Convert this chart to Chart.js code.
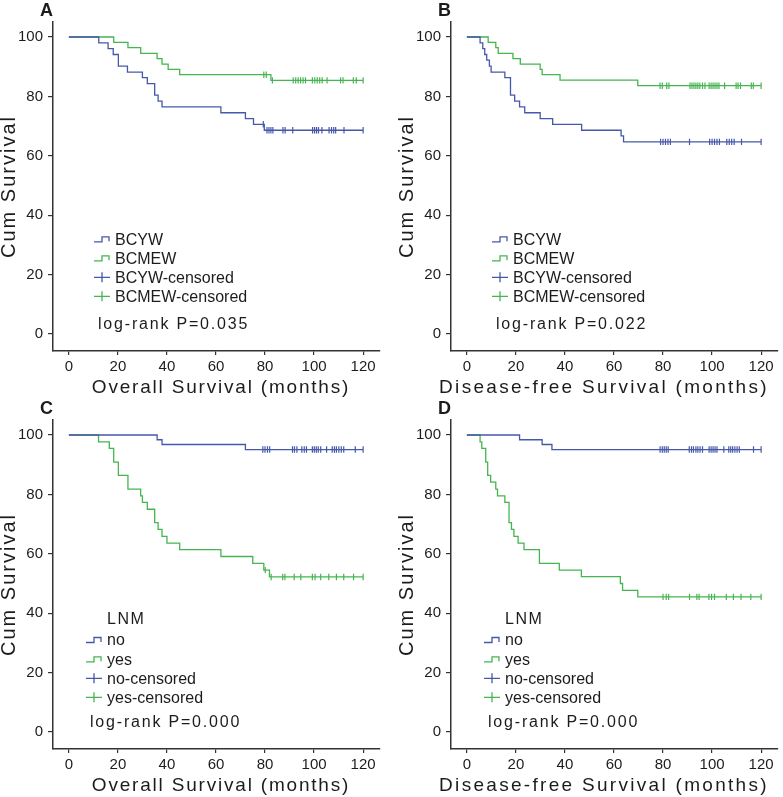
<!DOCTYPE html>
<html>
<head>
<meta charset="utf-8">
<script src="https://cdn.jsdelivr.net/npm/chart.js@4.4.1/dist/chart.umd.min.js"></script>
<style>
  html, body { margin: 0; padding: 0; background: #fff; overflow: hidden; }
  #wrap { position: relative; width: 783px; height: 797px; }
  .panel { position: absolute; width: 385px; height: 399px; }
</style>
</head>
<body>
<div id="wrap">
  <div class="panel" style="left:0;top:0"><canvas id="pa" width="385" height="399"></canvas></div>
  <div class="panel" style="left:398px;top:0"><canvas id="pb" width="385" height="399"></canvas></div>
  <div class="panel" style="left:0;top:398px"><canvas id="pc" width="385" height="399"></canvas></div>
  <div class="panel" style="left:398px;top:398px"><canvas id="pd" width="385" height="399"></canvas></div>
</div>
<script>
// axis ticks
const xTickVals = [0, 20, 40, 60, 80, 100, 120];
const yTickVals = [0, 20, 40, 60, 80, 100];

// A: overall survival, BCYW vs BCMEW
const aYoungTimes = [12.2, 16, 18.1, 20.2, 23.9, 30, 32, 35, 36.4, 38, 62, 72, 75.3, 79.7];
const aYoungSurv = [98.0, 96.1, 94.1, 90.2, 88.2, 86.3, 84.3, 80.4, 78.4, 76.5, 74.5, 72.5, 70.6, 68.6];
const aYoungCens = [79.3, 80.8, 81.6, 82.4, 83.2, 87.3, 88.2, 91.3, 99.4, 100.2, 101, 101.8, 103.2, 106.1, 107.1, 108, 108.8, 112.2, 120];
const aMidTimes = [18.3, 24.1, 29.3, 36, 38, 40.5, 45.2, 82.4];
const aMidSurv = [98.2, 96.4, 94.5, 92.7, 90.9, 89.1, 87.3, 85.4];
const aMidCens = [79.5, 80.5, 83, 91.5, 92.5, 93.5, 94.5, 95.5, 96.5, 99.3, 100.3, 101.3, 102.3, 103.3, 105.3, 110.8, 111.8, 116, 117.2, 120];

// B: disease-free survival, BCYW vs BCMEW
const bYoungTimes = [5.4, 6.5, 7.3, 8.1, 9.2, 9.9, 15.5, 17.8, 19.5, 21.5, 23.6, 29.9, 35, 46.8, 62.9, 63.9];
const bYoungSurv = [98.0, 96.1, 94.1, 92.2, 90.2, 88.2, 86.3, 80.4, 78.4, 76.5, 74.5, 72.5, 70.6, 68.6, 66.7, 64.7];
const bYoungCens = [79, 80, 81, 82, 83, 90.8, 99, 100, 101, 102, 103, 106, 107, 108, 109, 112, 120];
const bMidTimes = [8.7, 11.8, 12.8, 18.8, 21.8, 29.9, 30.7, 38, 69.7];
const bMidSurv = [98.2, 96.4, 94.5, 92.7, 90.9, 89.1, 87.3, 85.5, 83.6];
const bMidCens = [78.8, 79.7, 81.5, 82.4, 91, 91.8, 92.6, 93.4, 94.2, 95, 96.1, 97.1, 98.8, 99.6, 100.4, 101.2, 102, 102.8, 105.1, 109.8, 110.6, 111.6, 116, 116.8, 120];

// C: overall survival by LNM
const cNoTimes = [36, 38, 72];
const cNoSurv = [98.4, 96.8, 95.1];
const cNoCens = [79.1, 80, 81, 81.9, 91.2, 92, 93, 95, 96, 96.9, 99.3, 100.1, 100.9, 101.7, 102.7, 105.1, 107.4, 108.3, 109.1, 110.1, 111.1, 112.1, 116.8, 120];
const cYesTimes = [12.1, 16.5, 18.3, 20.2, 24.1, 29.3, 30, 32, 35, 36.4, 38, 40, 45.2, 62, 75, 79.5, 81.8];
const cYesSurv = [97.7, 95.5, 90.9, 86.4, 81.8, 79.5, 77.3, 75.0, 70.5, 68.2, 65.9, 63.6, 61.4, 59.1, 56.8, 54.5, 52.2];
const cYesCens = [80.1, 82.5, 87.2, 88.1, 91.9, 94.6, 99.3, 100.4, 102.7, 106, 109.1, 112.1, 116.1, 120];

// D: disease-free survival by LNM
const dNoTimes = [21.5, 30.7, 34.7];
const dNoSurv = [98.4, 96.8, 95.1];
const dNoCens = [78.8, 79.7, 80.5, 81.3, 82.1, 90.7, 91.6, 92.4, 93.4, 94.2, 95.1, 96.1, 98.8, 99.6, 100.4, 101.2, 102, 104.8, 106.8, 107.6, 108.4, 109.3, 110.2, 111.1, 116.9, 120];
const dYesTimes = [5.4, 6.1, 7.7, 8.5, 9.7, 11.8, 12.5, 15.5, 17.2, 18.2, 19.2, 20.9, 23.3, 29.6, 37.7, 46.7, 62.6, 63.5, 69.7];
const dYesSurv = [97.7, 95.5, 90.9, 86.4, 84.1, 81.8, 79.5, 77.3, 70.5, 68.2, 65.9, 63.6, 61.4, 56.8, 54.5, 52.3, 50.0, 47.7, 45.5];
const dYesCens = [80, 81.3, 82.3, 90.8, 93.8, 94.7, 98.7, 99.8, 101, 105.8, 108.7, 111.8, 115.8, 120];

const groupLabels = ['BCYW', 'BCMEW', 'BCYW-censored', 'BCMEW-censored'];
const lnmLabels = ['no', 'yes', 'no-censored', 'yes-censored'];

const BLUE = '#4658a9';
const GREEN = '#45b54f';
const INK = '#1c1c1c';
const FONT = '"Liberation Sans", Arial, sans-serif';

// survival value at time t (step function)
function survAt(times, surv, t) {
  let s = 100;
  for (let i = 0; i < times.length; i++) {
    if (times[i] <= t) s = surv[i];
  }
  return s;
}

function stepData(times, surv, cens) {
  let pts = [{x: 0, y: 100}];
  for (let i = 0; i < times.length; i++) pts.push({x: times[i], y: surv[i]});
  let end = cens[cens.length - 1];
  pts.push({x: end, y: surv[surv.length - 1]});
  return pts;
}

function censData(times, surv, cens) {
  return cens.map(t => ({x: t, y: survAt(times, surv, t)}));
}

const panelDecor = {
  id: 'panelDecor',
  afterDraw(chart, args, o) {
    const ctx = chart.ctx;
    const area = chart.chartArea;
    ctx.save();
    ctx.fillStyle = INK;

    // panel letter
    ctx.font = 'bold 18px ' + FONT;
    ctx.textAlign = 'left';
    ctx.textBaseline = 'alphabetic';
    ctx.fillText(o.letter, 40, 16);

    // axis titles
    ctx.font = '19px ' + FONT;
    ctx.letterSpacing = o.titleSpacing;
    ctx.textAlign = 'center';
    ctx.textBaseline = 'middle';
    ctx.fillText(o.xTitle, o.titleX, 388);
    ctx.font = '20px ' + FONT;
    ctx.letterSpacing = '2px';
    ctx.save();
    ctx.translate(9, (area.top + area.bottom) / 2);
    ctx.rotate(-Math.PI / 2);
    ctx.fillText('Cum Survival', 0, 0);
    ctx.restore();

    // legend
    ctx.letterSpacing = '0px';
    ctx.textAlign = 'left';
    ctx.font = '16px ' + FONT;
    const ix = o.legendX;
    const colors = [BLUE, GREEN, BLUE, GREEN];
    if (o.header) {
      ctx.letterSpacing = '1.5px';
      ctx.fillText(o.header, ix + 21, o.rows[0] - 20);
      ctx.letterSpacing = '0px';
    }
    o.labels.forEach((lab, i) => {
      const y = o.rows[i];
      ctx.strokeStyle = colors[i];
      ctx.lineWidth = 1.3;
      ctx.beginPath();
      if (i < 2) {
        ctx.moveTo(ix, y + 2.5);
        ctx.lineTo(ix + 8, y + 2.5);
        ctx.lineTo(ix + 8, y - 2.5);
        ctx.lineTo(ix + 15, y - 2.5);
        ctx.lineTo(ix + 15, y + 2);
      } else {
        ctx.moveTo(ix, y);
        ctx.lineTo(ix + 16, y);
        ctx.moveTo(ix + 8, y - 5);
        ctx.lineTo(ix + 8, y + 5);
      }
      ctx.stroke();
      ctx.fillStyle = INK;
      ctx.textBaseline = 'middle';
      ctx.fillText(lab, ix + 21, y + 1);
    });

    // log-rank text
    ctx.letterSpacing = '1.8px';
    ctx.textBaseline = 'alphabetic';
    ctx.fillText(o.pText, o.pX, 329);
    ctx.restore();
  }
};

function makePanel(id, p) {
  const ds = [
    {data: stepData(p.t1, p.s1, p.c1), borderColor: BLUE, stepped: true},
    {data: stepData(p.t2, p.s2, p.c2), borderColor: GREEN, stepped: true},
    {data: censData(p.t1, p.s1, p.c1), borderColor: BLUE, showLine: false, pointStyle: 'line', rotation: 90, pointRadius: 3.2, pointBorderWidth: 1.2},
    {data: censData(p.t2, p.s2, p.c2), borderColor: GREEN, showLine: false, pointStyle: 'line', rotation: 90, pointRadius: 3.2, pointBorderWidth: 1.2}
  ];
  ds.forEach(d => {
    d.borderWidth = 1.3;
    if (d.showLine !== false) d.pointRadius = 0;
    d.fill = false;
  });

  const tickFont = {family: FONT, size: 15};
  new Chart(document.getElementById(id), {
    type: 'line',
    data: {datasets: ds},
    options: {
      responsive: false,
      animation: false,
      devicePixelRatio: 1,
      layout: {padding: {top: 22, right: 2, left: 0, bottom: 0}},
      plugins: {
        legend: {display: false},
        tooltip: {enabled: false},
        panelDecor: p.decor
      },
      scales: {
        x: {
          type: 'linear', min: -6.46, max: 126.8,
          afterBuildTicks: s => { s.ticks = xTickVals.map(v => ({value: v})); },
          afterFit: s => { s.height = 48; },
          ticks: {font: tickFont, color: INK, padding: 3, maxRotation: 0},
          grid: {drawOnChartArea: false, tickLength: 4, color: '#333', lineWidth: 1.2},
          border: {color: '#333', width: 1.5}
        },
        y: {
          type: 'linear', min: -5.72, max: 105.05,
          afterBuildTicks: s => { s.ticks = yTickVals.map(v => ({value: v})); },
          afterFit: s => { s.width = 53; },
          ticks: {font: tickFont, color: INK, padding: 5},
          grid: {drawOnChartArea: false, tickLength: 5, color: '#333', lineWidth: 1.2},
          border: {color: '#333', width: 1.5}
        }
      }
    },
    plugins: [panelDecor]
  });
}

makePanel('pa', {
  t1: aYoungTimes, s1: aYoungSurv, c1: aYoungCens,
  t2: aMidTimes, s2: aMidSurv, c2: aMidCens,
  decor: {letter: 'A', xTitle: 'Overall Survival (months)', titleX: 221, titleSpacing: '1.8px',
          labels: groupLabels, header: null,
          legendX: 94, rows: [239.3, 258.3, 277.3, 296.3], pText: 'log-rank P=0.035', pX: 98}
});
makePanel('pb', {
  t1: bYoungTimes, s1: bYoungSurv, c1: bYoungCens,
  t2: bMidTimes, s2: bMidSurv, c2: bMidCens,
  decor: {letter: 'B', xTitle: 'Disease-free Survival (months)', titleX: 206, titleSpacing: '2.3px',
          labels: groupLabels, header: null,
          legendX: 94, rows: [239.3, 258.3, 277.3, 296.3], pText: 'log-rank P=0.022', pX: 98}
});
makePanel('pc', {
  t1: cNoTimes, s1: cNoSurv, c1: cNoCens,
  t2: cYesTimes, s2: cYesSurv, c2: cYesCens,
  decor: {letter: 'C', xTitle: 'Overall Survival (months)', titleX: 221, titleSpacing: '1.8px',
          labels: lnmLabels, header: 'LNM',
          legendX: 86, rows: [242, 261.3, 280.3, 299.3], pText: 'log-rank P=0.000', pX: 90}
});
makePanel('pd', {
  t1: dNoTimes, s1: dNoSurv, c1: dNoCens,
  t2: dYesTimes, s2: dYesSurv, c2: dYesCens,
  decor: {letter: 'D', xTitle: 'Disease-free Survival (months)', titleX: 206, titleSpacing: '2.3px',
          labels: lnmLabels, header: 'LNM',
          legendX: 86, rows: [242, 261.3, 280.3, 299.3], pText: 'log-rank P=0.000', pX: 90}
});
</script>
</body>
</html>
